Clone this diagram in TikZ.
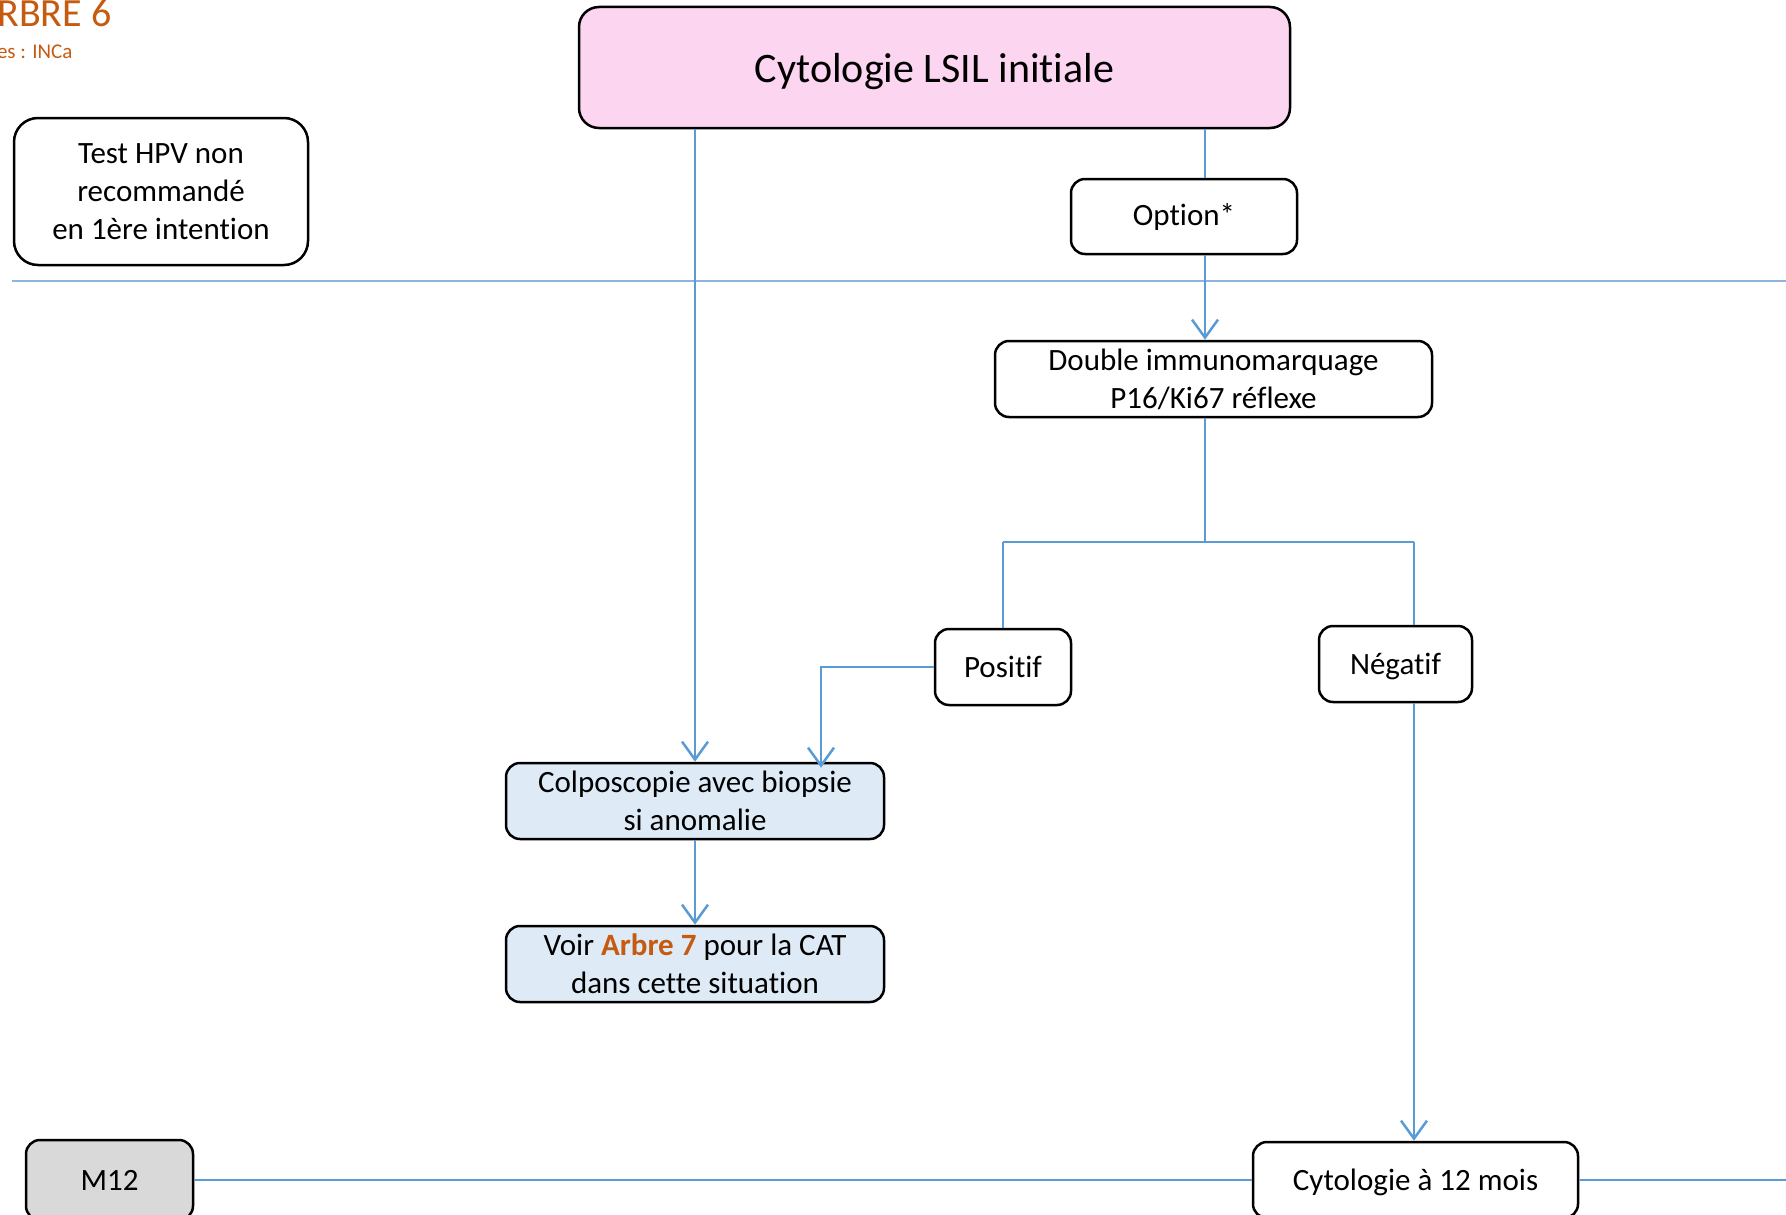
\documentclass[tikz,border=0pt]{standalone}
\usepackage{fontspec}
\setmainfont{Carlito}[Ligatures=NoCommon]
\usetikzlibrary{arrows.meta}
\definecolor{lien}{RGB}{91,155,213}
\definecolor{trait}{RGB}{143,180,222}
\definecolor{rose}{RGB}{252,213,240}
\definecolor{bleupale}{RGB}{222,235,247}
\definecolor{gris}{RGB}{217,217,217}
\definecolor{arbre}{RGB}{197,90,17}

\begin{document}
\begin{tikzpicture}[x=1pt,y=-1pt,
        bx/.style={rectangle,draw,line width=2.5pt,rounded corners=14pt,align=center,
                   inner sep=0pt,font=\fontsize{31}{38}\selectfont},
        arr/.style={draw=lien,line width=2.5pt,-{Straight Barb[length=18pt,width=26pt]}},
        fin/.style={draw=lien,line width=1.8pt}]
            \useasboundingbox (0,0) rectangle (1786,1215);

            % titre (coupe par le bord)
            \draw (115,27) node[anchor=base east,text=arbre,font=\fontsize{40}{48}\selectfont](titre){RBRE 6};
            \draw (76,59) node[anchor=base east,text=arbre,font=\fontsize{21}{25}\selectfont](src){es : INCa};

            \draw (934.5,67.5) node[bx,fill=rose,rounded corners=20pt,minimum width=711pt,minimum height=121pt,
                  text depth=0pt,font=\fontsize{42}{50}\selectfont](top){Cytologie LSIL initiale};
            \draw (161,191.5)  node[bx,rounded corners=24pt,minimum width=294pt,minimum height=147pt](hpv)
                  {Test HPV non\\recommandé\\en 1ère intention};
            \draw (1184,216.5) node[bx,minimum width=226pt,minimum height=75pt](opt){Option*};
            \draw (1213.5,379) node[bx,minimum width=437pt,minimum height=76pt](dbl)
                  {Double immunomarquage\\P16/Ki67 réflexe};
            \draw (1003,667)   node[bx,minimum width=136pt,minimum height=76pt](pos){Positif};
            \draw (1395.5,664) node[bx,minimum width=153pt,minimum height=76pt,text depth=0pt](neg){Négatif};
            \draw (695,801)    node[bx,fill=bleupale,minimum width=378pt,minimum height=76pt](colpo)
                  {Colposcopie avec biopsie\\si anomalie};
            \draw (695,964)    node[bx,fill=bleupale,minimum width=378pt,minimum height=76pt](voir)
                  {Voir \textcolor{arbre}{\textbf{Arbre 7}} pour la CAT\\dans cette situation};
            \draw (1415.5,1180) node[bx,minimum width=325pt,minimum height=76pt,text depth=0pt](cyto)
                  {Cytologie à 12 mois};
            \draw (109.5,1180) node[bx,fill=gris,minimum width=167pt,minimum height=80pt](m12){M12};

            \coordinate (rx) at (1205,0);
            \coordinate (px) at (821,0);
            \coordinate (nx) at (1414,0);
            \coordinate (br) at (0,542);
            \coordinate (gauche) at (12,281);
            \coordinate (droite) at (1786,281);
            \coordinate (bord) at (1786,1180);

            % lignes de temps
            \draw[draw=trait,line width=2.5pt] (gauche) -- (droite);
            \begin{scope}[fin]
                \path (m12.east) edge (cyto.west);
                \path (cyto.east) edge (bord);
            \end{scope}

            \begin{scope}[arr]
                \path (top.south -| colpo.north) edge (colpo.north);
                \path (opt.south -| rx) edge (dbl.north -| rx);
                \path (colpo.south) edge (voir.north);
                \path (neg.south -| nx) edge (cyto.north -| nx);
            \end{scope}

            \begin{scope}[fin]
                \path (top.south -| rx) edge (opt.north -| rx);
                \path (dbl.south -| rx) edge (rx |- br);
                \path (pos.north |- br) edge (nx |- br);
                \path (pos.north |- br) edge (pos.north);
                \path (nx |- br) edge (neg.north -| nx);
            \end{scope}
            \draw[arr] (pos.west) -- (pos.west -| px) -- ([yshift=-6pt]colpo.north -| px);
        \end{tikzpicture}
\end{document}
